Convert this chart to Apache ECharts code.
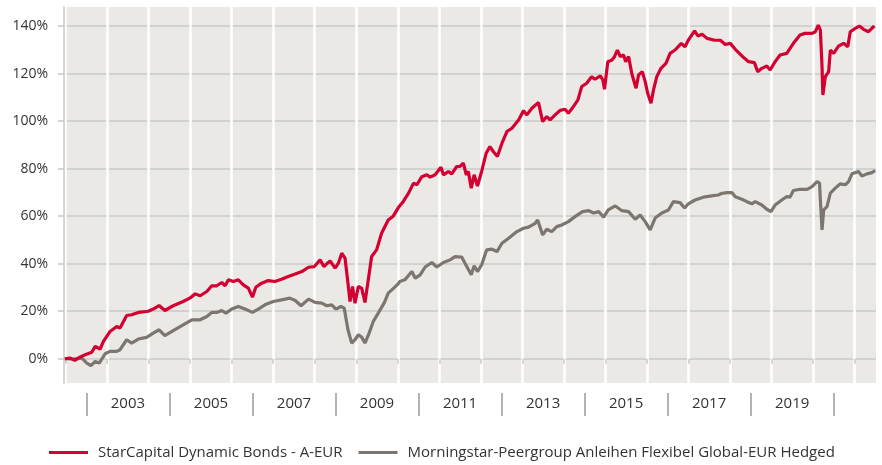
<!DOCTYPE html>
<html>
<head>
<meta charset="utf-8">
<script src="https://cdn.jsdelivr.net/npm/echarts@6/dist/echarts.min.js"></script>
<style>
html,body{margin:0;padding:0;background:#fff;}
#chart{width:882px;height:465px;}
</style>
</head>
<body>
<div id="chart"></div>
<script>
// Series names
const seriesNames = ['StarCapital Dynamic Bonds - A-EUR', 'Morningstar-Peergroup Anleihen Flexibel Global-EUR Hedged'];

// StarCapital Dynamic Bonds - A-EUR (decimal year, cumulative %)
const fundYears = [2001.98,2002.10,2002.22,2002.34,2002.47,2002.63,2002.71,2002.83,2002.91,2003.07,2003.23,2003.31,2003.47,2003.59,2003.75,2003.99,2004.11,2004.25,2004.39,2004.59,2004.83,2004.99,2005.12,2005.24,2005.40,2005.52,2005.64,2005.76,2005.84,2005.92,2006.04,2006.16,2006.28,2006.40,2006.50,2006.58,2006.72,2006.88,2007.04,2007.20,2007.36,2007.53,2007.69,2007.85,2007.99,2008.13,2008.22,2008.37,2008.49,2008.57,2008.65,2008.73,2008.80,2008.85,2008.91,2008.97,2009.05,2009.13,2009.21,2009.29,2009.37,2009.49,2009.61,2009.77,2009.89,2010.01,2010.13,2010.26,2010.38,2010.46,2010.58,2010.70,2010.78,2010.90,2011.04,2011.10,2011.22,2011.30,2011.42,2011.50,2011.58,2011.65,2011.70,2011.77,2011.84,2011.92,2012.02,2012.13,2012.22,2012.30,2012.40,2012.51,2012.63,2012.75,2012.91,2013.03,2013.11,2013.23,2013.39,2013.49,2013.59,2013.67,2013.79,2013.91,2014.03,2014.11,2014.23,2014.34,2014.43,2014.55,2014.67,2014.75,2014.88,2014.94,2014.98,2015.06,2015.16,2015.22,2015.29,2015.36,2015.44,2015.49,2015.56,2015.64,2015.74,2015.80,2015.89,2015.96,2016.02,2016.10,2016.16,2016.24,2016.34,2016.46,2016.56,2016.68,2016.83,2016.92,2017.00,2017.15,2017.23,2017.33,2017.45,2017.61,2017.77,2017.89,2018.01,2018.13,2018.29,2018.45,2018.59,2018.67,2018.77,2018.89,2018.97,2019.09,2019.21,2019.37,2019.53,2019.69,2019.81,2019.98,2020.06,2020.13,2020.18,2020.22,2020.24,2020.30,2020.38,2020.42,2020.50,2020.62,2020.74,2020.84,2020.90,2021.02,2021.12,2021.22,2021.34,2021.42,2021.48];
const fundValues = [0,0.3,-0.7,0.7,1.7,2.7,5.2,4.1,7.3,11.5,13.6,12.9,18.2,18.5,19.5,20.0,20.9,22.4,20.3,22.3,24.1,25.5,27.3,26.5,28.3,30.7,30.7,32.1,30.7,33.2,32.5,33.2,31.1,29.7,25.9,30.1,31.8,32.9,32.5,33.5,34.6,35.7,36.7,38.5,38.8,41.6,38.8,41.2,38.1,40.2,44.4,42.3,31.8,24.1,30.4,23.4,30.4,29.7,23.7,33.2,43.0,45.8,52.8,58.4,60.0,63.5,66.1,69.7,73.9,73.2,76.6,77.4,76.4,77.4,80.6,77.4,78.8,77.8,80.9,80.9,82.3,77.4,78.8,71.8,77.4,72.7,78.8,86.5,89.3,87.2,85.1,90.7,95.6,97.0,100.5,104.4,102.6,105.4,107.8,99.8,101.9,100.5,102.6,104.5,105.0,103.3,106.1,108.9,114.5,115.9,118.7,117.6,119.0,117.3,113.4,125.0,125.7,127.1,129.9,127.1,127.8,125.0,127.1,119.8,113.8,119.4,120.8,116.6,111.7,107.5,113.1,118.7,122.2,124.3,128.5,129.9,132.7,131.3,134.1,138.0,135.8,136.5,134.8,134.1,134.0,132.2,132.7,130.2,127.4,125.0,124.6,120.8,122.2,123.2,121.5,125.0,127.8,128.5,132.7,136.2,136.9,136.9,137.6,140.4,138.3,122.9,111.0,118.7,120.8,129.9,128.5,131.6,132.7,131.3,137.6,139.0,140.0,138.6,137.6,139.0,140.0];

// Morningstar peer group (decimal year, cumulative %)
const peerYears = [2001.98,2002.18,2002.39,2002.51,2002.61,2002.71,2002.81,2002.95,2003.07,2003.23,2003.31,2003.47,2003.59,2003.75,2003.95,2004.11,2004.25,2004.39,2004.59,2004.83,2005.04,2005.24,2005.40,2005.52,2005.64,2005.76,2005.86,2006.00,2006.16,2006.32,2006.50,2006.64,2006.80,2007.00,2007.20,2007.40,2007.53,2007.67,2007.85,2008.01,2008.17,2008.29,2008.41,2008.51,2008.63,2008.71,2008.80,2008.89,2008.97,2009.05,2009.13,2009.21,2009.31,2009.41,2009.53,2009.68,2009.77,2009.89,2010.01,2010.05,2010.17,2010.34,2010.42,2010.54,2010.66,2010.82,2010.94,2011.10,2011.26,2011.38,2011.54,2011.62,2011.77,2011.84,2011.92,2012.02,2012.14,2012.27,2012.39,2012.51,2012.67,2012.87,2013.03,2013.15,2013.31,2013.37,2013.49,2013.59,2013.71,2013.83,2013.95,2014.11,2014.27,2014.45,2014.60,2014.72,2014.84,2014.96,2015.07,2015.24,2015.40,2015.56,2015.72,2015.84,2015.96,2016.08,2016.20,2016.36,2016.52,2016.64,2016.80,2016.91,2017.00,2017.16,2017.36,2017.56,2017.72,2017.81,2017.93,2018.05,2018.13,2018.29,2018.41,2018.53,2018.61,2018.77,2018.89,2018.99,2019.09,2019.25,2019.37,2019.45,2019.53,2019.69,2019.86,2019.98,2020.10,2020.16,2020.18,2020.22,2020.26,2020.34,2020.42,2020.54,2020.66,2020.78,2020.86,2020.94,2021.10,2021.18,2021.30,2021.42,2021.50];
const peerValues = [0,-0.1,0.3,-1.8,-2.9,-1.1,-1.8,2.1,3.1,3.1,3.8,8.0,6.6,8.3,9.0,10.8,12.2,9.7,11.8,14.3,16.4,16.4,17.8,19.5,19.5,20.3,19.2,20.9,22.0,20.9,19.5,20.9,22.7,24.1,24.8,25.5,24.5,22.3,25.1,23.7,23.4,22.3,22.7,20.9,22.0,21.3,12.2,6.6,8.0,10.1,9.1,6.6,10.8,15.7,19.2,23.7,27.6,29.5,31.5,32.5,33.2,36.7,33.9,35.3,38.6,40.5,38.6,40.5,41.6,43.0,42.8,40.2,35.3,39.1,36.7,39.5,45.8,46.1,45.1,48.6,50.7,53.5,54.9,55.4,57.0,58.4,52.1,54.5,53.5,55.6,56.3,57.7,59.8,61.9,62.3,61.3,61.9,59.6,62.6,64.3,62.3,61.9,58.7,60.5,57.7,54.2,59.2,61.3,62.6,66.1,65.7,63.4,65.2,66.8,68.0,68.5,68.9,69.6,69.9,69.9,68.2,67.1,66.1,65.2,66.1,64.7,62.9,61.9,64.7,66.8,68.2,68.0,70.8,71.3,71.3,72.4,74.5,73.9,66.8,54.2,62.6,64.0,69.7,71.8,73.6,73.2,74.5,77.8,78.8,76.9,77.8,78.3,79.2];

// Axis ticks
const yearGridTicks = [2002,2003,2004,2005,2006,2007,2008,2009,2010,2011,2012,2013,2014,2015,2016,2017,2018,2019,2020,2021];
const yearLabels = ['2003','2005','2007','2009','2011','2013','2015','2017','2019'];
const yearSeparators = [2002.5,2004.5,2006.5,2008.5,2010.5,2012.5,2014.5,2016.5,2018.5,2020.5];
const yTicks = [0,20,40,60,80,100,120,140];

const labelPositions = yearLabels.map(y => Number(y) + 0.5);
const toPairs = (xs, ys) => xs.map((x, i) => [x, ys[i]]);

const X_MIN = 2001.96, X_MAX = 2021.52;
const font = 'Open Sans';

const chart = echarts.init(document.getElementById('chart'), null, {renderer: 'canvas'});
chart.setOption({
  animation: false,
  backgroundColor: '#ffffff',
  textStyle: {fontFamily: font},
  grid: {
    left: 64, right: 6, top: 7, bottom: 82,
    show: true, backgroundColor: '#ebe9e6', borderWidth: 0,
    containLabel: false
  },
  legend: {
    data: seriesNames,
    left: 49, top: 445, padding: 0,
    icon: 'rect', itemWidth: 39, itemHeight: 3, itemGap: 16,
    textStyle: {fontFamily: font, fontSize: 15, color: '#333', padding: [0,0,0,5]}
  },
  xAxis: [{
    type: 'value', min: X_MIN, max: X_MAX,
    axisLine: {show: false},
    axisTick: {show: true, customValues: yearGridTicks, length: 5, lineStyle: {color: '#c8c8c8', width: 1.5}},
    splitLine: {show: true, lineStyle: {color: '#ffffff', width: 2.5}},
    axisLabel: {
      show: true, customValues: labelPositions, margin: 13,
      fontFamily: font, fontSize: 15, color: '#333',
      formatter: v => String(Math.floor(v))
    }
  }, {
    type: 'value', min: X_MIN, max: X_MAX, position: 'bottom', offset: 10,
    axisLine: {show: false},
    axisTick: {show: true, customValues: yearSeparators, length: 23, lineStyle: {color: '#9a9a9a', width: 1.5}},
    splitLine: {show: false},
    axisLabel: {show: false}
  }],
  yAxis: {
    type: 'value', min: -10.2, max: 148,
    axisLine: {show: true, lineStyle: {color: '#c8c8c8', width: 1.5}},
    axisTick: {show: true, customValues: yTicks, length: 6, lineStyle: {color: '#c8c8c8', width: 1.5}},
    splitLine: {show: true, lineStyle: {color: '#c8c8c8', width: 1.5}},
    axisLabel: {
      customValues: yTicks, margin: 16,
      fontFamily: font, fontSize: 14, color: '#333',
      formatter: v => v + '%'
    }
  },
  series: [{
    name: seriesNames[0], type: 'line', xAxisIndex: 0,
    data: toPairs(fundYears, fundValues),
    showSymbol: false, z: 3,
    lineStyle: {color: '#d50032', width: 3.2},
    itemStyle: {color: '#d50032'}
  }, {
    name: seriesNames[1], type: 'line', xAxisIndex: 0,
    data: toPairs(peerYears, peerValues),
    showSymbol: false, z: 2,
    lineStyle: {color: '#7d7670', width: 3.2},
    itemStyle: {color: '#7d7670'}
  }]
});
</script>
</body>
</html>
